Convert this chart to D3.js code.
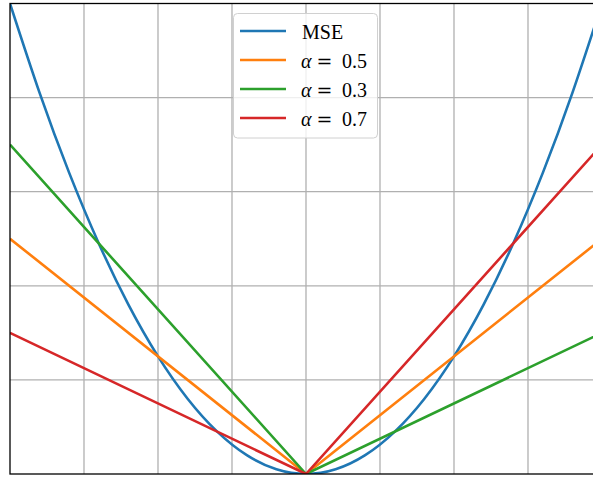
<!DOCTYPE html>
<html><head><meta charset="utf-8">
<script src="https://cdn.jsdelivr.net/npm/d3@7"></script>
<style>html,body{margin:0;padding:0;background:#fff;overflow:hidden}</style>
</head><body>
<svg id="c" width="593" height="477"></svg>
<script>
// Data
const errX = [-1,-0.9,-0.8,-0.7,-0.6,-0.5,-0.4,-0.3,-0.2,-0.1,0,0.1,0.2,0.3,0.4,0.5,0.6,0.7,0.8,0.9,1];
const mseY = [1,0.81,0.64,0.49,0.36,0.25,0.16,0.09,0.04,0.01,0,0.01,0.04,0.09,0.16,0.25,0.36,0.49,0.64,0.81,1];
const qX = [-1, 0, 1];
const q05Y = [0.5, 0, 0.5];
const q03Y = [0.7, 0, 0.3];
const q07Y = [0.3, 0, 0.7];
const seriesNames = ["MSE", "0.5", "0.3", "0.7"];
const xGridTicks = [-0.75,-0.5,-0.25,0,0.25,0.5,0.75];
const yGridTicks = [0.2,0.4,0.6,0.8];
const colors = ["#1f77b4","#ff7f0e","#2ca02c","#d62728"];

const svg = d3.select("#c");
const L = 10, T = 3.5, R = 602, B = 474;
const x = d3.scaleLinear().domain([-1,1]).range([L,R]);
const y = d3.scaleLinear().domain([0,1]).range([B,T]);

svg.append("defs").append("clipPath").attr("id","pc")
  .append("rect").attr("x",L).attr("y",T).attr("width",R-L).attr("height",B-T);

// grid
const g = svg.append("g");
g.selectAll(".vx").data(xGridTicks).join("line")
  .attr("x1",d=>x(d)).attr("x2",d=>x(d)).attr("y1",T).attr("y2",B)
  .attr("stroke","#b0b0b0").attr("stroke-width",1.3);
g.selectAll(".hy").data(yGridTicks).join("line")
  .attr("y1",d=>y(d)).attr("y2",d=>y(d)).attr("x1",L).attr("x2",R)
  .attr("stroke","#b0b0b0").attr("stroke-width",1.3);

const series = [
  {xs: errX, ys: mseY, curve: d3.curveNatural},
  {xs: qX, ys: q05Y, curve: d3.curveLinear},
  {xs: qX, ys: q03Y, curve: d3.curveLinear},
  {xs: qX, ys: q07Y, curve: d3.curveLinear}
];
const pg = svg.append("g").attr("clip-path","url(#pc)");
series.forEach((s,i)=>{
  const pts = s.xs.map((v,j)=>[v,s.ys[j]]);
  pg.append("path").datum(pts)
    .attr("d", d3.line().x(d=>x(d[0])).y(d=>y(d[1])).curve(s.curve))
    .attr("fill","none").attr("stroke",colors[i]).attr("stroke-width",2.6)
    .attr("stroke-linejoin","round").attr("stroke-linecap","butt");
});

// spines
svg.append("rect").attr("x",L).attr("y",T).attr("width",R-L).attr("height",B-T)
  .attr("fill","none").attr("stroke","#000").attr("stroke-width",1.3);

// legend
const lg = svg.append("g");
lg.append("rect").attr("x",233.5).attr("y",13.5).attr("width",144).attr("height",124.5)
  .attr("rx",4).attr("fill","#fff").attr("fill-opacity",0.8)
  .attr("stroke","#d0d0d0").attr("stroke-width",1);
const rowY = [31, 60, 89, 118];
seriesNames.forEach((n,i)=>{
  lg.append("line").attr("x1",240).attr("x2",286).attr("y1",rowY[i]).attr("y2",rowY[i])
    .attr("stroke",colors[i]).attr("stroke-width",2.6);
  const t = lg.append("text").attr("y",rowY[i]+7.5).attr("font-family","'Liberation Serif','DejaVu Serif',serif")
    .attr("font-size",20).attr("fill","#000");
  if (i===0) {
    t.append("tspan").attr("x",302).text(n);
  } else {
    t.append("tspan").attr("x",301).attr("font-style","italic").text("α");
    t.append("tspan").attr("x",316.5).attr("font-family","'DejaVu Serif',serif").attr("font-size",19).text("=");
    t.append("tspan").attr("x",342).text(n);
  }
});
</script>
</body></html>
